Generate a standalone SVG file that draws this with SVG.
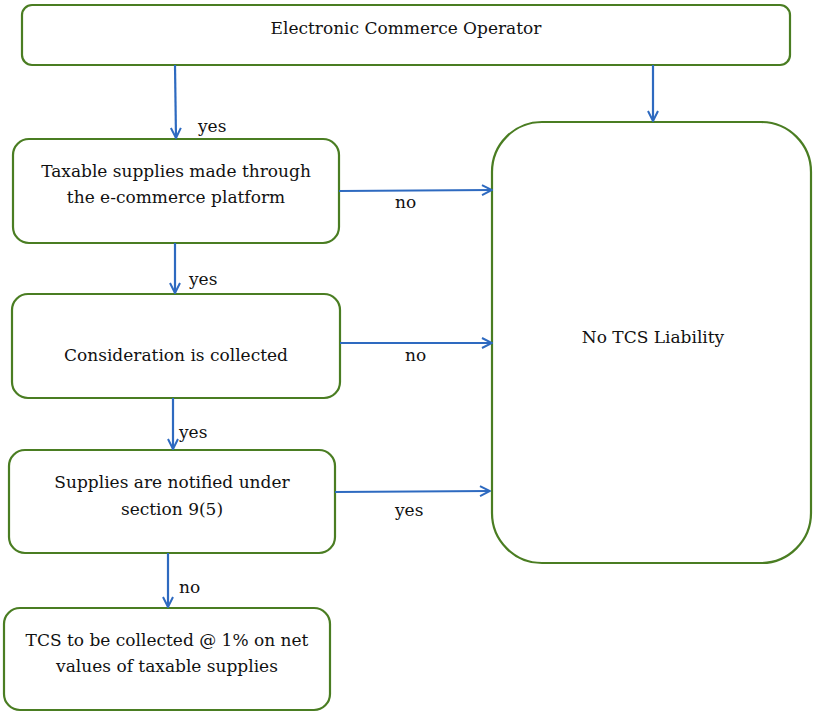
<svg xmlns="http://www.w3.org/2000/svg" width="813" height="712" viewBox="0 0 813 712">
  <style>
    .box { fill: #ffffff; stroke: #4a7d22; stroke-width: 2.2; }
    .lbl { font-family: "DejaVu Serif", "Liberation Serif", serif; font-size: 17px; fill: #111111; text-anchor: middle; }
    .edge { fill: none; stroke: #2e6ac0; stroke-width: 2.2; marker-end: url(#arrow); }
    .elbl { font-family: "DejaVu Serif", "Liberation Serif", serif; font-size: 17px; fill: #111111; }
  </style>
  <defs>
    <marker id="arrow" viewBox="0 0 12 12" refX="11" refY="6" markerWidth="12" markerHeight="12" markerUnits="userSpaceOnUse" orient="auto">
      <path d="M1,1 L11,6 L1,11" fill="none" stroke="#2e6ac0" stroke-width="2"/>
    </marker>
  </defs>
  <rect width="813" height="712" fill="#ffffff"/>

  <g id="operator">
    <rect class="box" x="22" y="5" width="768" height="60" rx="10"/>
    <text class="lbl" x="406" y="34">Electronic Commerce Operator</text>
  </g>

  <g id="taxable-supplies">
    <rect class="box" x="13" y="139" width="326" height="104" rx="16"/>
    <text class="lbl" x="176" y="177">Taxable supplies made through</text>
    <text class="lbl" x="176" y="203">the e-commerce platform</text>
  </g>

  <g id="consideration">
    <rect class="box" x="12" y="294" width="328" height="104" rx="16"/>
    <text class="lbl" x="176" y="361">Consideration is collected</text>
  </g>

  <g id="notified">
    <rect class="box" x="9" y="450" width="326" height="103" rx="16"/>
    <text class="lbl" x="172" y="488">Supplies are notified under</text>
    <text class="lbl" x="172" y="515">section 9(5)</text>
  </g>

  <g id="tcs-collected">
    <rect class="box" x="4" y="608" width="326" height="102" rx="16"/>
    <text class="lbl" x="167" y="646">TCS to be collected @ 1% on net</text>
    <text class="lbl" x="167" y="672">values of taxable supplies</text>
  </g>

  <g id="no-tcs">
    <rect class="box" x="492" y="122" width="319" height="441" rx="50"/>
    <text class="lbl" x="653" y="343">No TCS Liability</text>
  </g>

  <g id="connectors">
    <path class="edge" d="M175,65 L176,138"/>
    <path class="edge" d="M653,65 L653,121"/>
    <path class="edge" d="M339,191 L492,190"/>
    <path class="edge" d="M175,243 L175,293"/>
    <path class="edge" d="M340,343 L492,343"/>
    <path class="edge" d="M173,398 L173,449"/>
    <path class="edge" d="M335,492 L490,491"/>
    <path class="edge" d="M168,553 L168,607"/>

    <text class="elbl" x="198" y="132">yes</text>
    <text class="elbl" x="395" y="208">no</text>
    <text class="elbl" x="189" y="285">yes</text>
    <text class="elbl" x="405" y="361">no</text>
    <text class="elbl" x="179" y="438">yes</text>
    <text class="elbl" x="395" y="516">yes</text>
    <text class="elbl" x="179" y="593">no</text>
  </g>
</svg>
